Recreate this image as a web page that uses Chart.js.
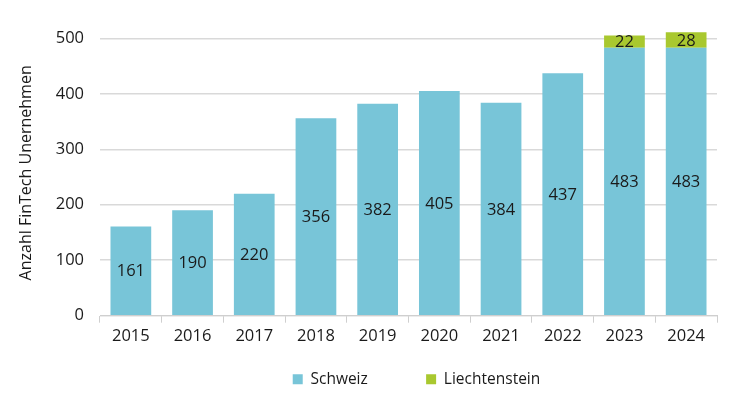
<!DOCTYPE html>
<html>
<head>
<meta charset="utf-8">
<script src="https://cdn.jsdelivr.net/npm/chart.js@4.4.0/dist/chart.umd.min.js"></script>
<style>
  html, body { margin: 0; padding: 0; background: #fff; }
  #wrap { width: 750px; height: 405px; }
</style>
</head>
<body>
<div id="wrap"><canvas id="myChart" width="750" height="405"></canvas></div>
<script>
var years = ['2015','2016','2017','2018','2019','2020','2021','2022','2023','2024'];
var schweiz = [161, 190, 220, 356, 382, 405, 384, 437, 483, 483];
var liechtenstein = [null, null, null, null, null, null, null, null, 22, 28];
var yTicks = [0, 100, 200, 300, 400, 500];

// draw values in the middle of each segment
var barLabels = {
    id: 'barLabels',
    afterDatasetsDraw: function(chart){
        var ctx = chart.ctx;
        ctx.save();
        ctx.font = '16.5px "Open Sans"';
        ctx.fillStyle = '#1a1a1a';
        ctx.textAlign = 'center';
        ctx.textBaseline = 'middle';
        chart.data.datasets.forEach(function(ds, i){
            var meta = chart.getDatasetMeta(i);
            meta.data.forEach(function(bar, j){
                var v = ds.data[j];
                if (v == null) return;
                var mid = (bar.y + bar.base) / 2;
                ctx.fillText(v, bar.x, mid + 1);
            });
        });
        ctx.restore();
    }
};

// nudge the legend a little to the right
var legendShift = {
    id: 'legendShift',
    afterLayout: function(chart){
        chart.legend.left += 8;
        chart.legend.right += 8;
    }
};

var ctx = document.getElementById('myChart').getContext('2d');
var chart = new Chart(ctx, {
    type: 'bar',
    data: {
        labels: years,
        datasets: [{
            label: 'Schweiz            ',
            data: schweiz,
            backgroundColor: '#78c5d8',
            categoryPercentage: 1,
            barPercentage: 0.66
        }, {
            label: 'Liechtenstein',
            data: liechtenstein,
            backgroundColor: '#a9c82f',
            categoryPercentage: 1,
            barPercentage: 0.66
        }]
    },
    options: {
        responsive: false,
        animation: false,
        layout: { padding: { left: 17, right: 33, top: 30, bottom: 8 } },
        plugins: {
            legend: {
                position: 'bottom',
                fullSize: false,
                labels: {
                    boxWidth: 10,
                    boxHeight: 10,
                    padding: 10,
                    color: '#1a1a1a',
                    font: { family: 'Open Sans', size: 15.5 }
                }
            },
            tooltip: { enabled: false }
        },
        scales: {
            x: {
                stacked: true,
                afterFit: function(axis){ axis.height += 11; },
                grid: {
                    display: true,
                    drawOnChartArea: false,
                    drawTicks: true,
                    tickLength: 7,
                    color: '#cfcfcf'
                },
                border: { display: true, color: '#cfcfcf' },
                ticks: {
                    color: '#1a1a1a',
                    padding: 4,
                    font: { family: 'Open Sans', size: 16.5 }
                }
            },
            y: {
                stacked: true,
                min: 0,
                max: 515,
                afterBuildTicks: function(axis){
                    axis.ticks = yTicks.map(function(v){ return { value: v }; });
                },
                afterFit: function(axis){ axis.width = 83; },
                grid: {
                    color: '#d9d9d9',
                    lineWidth: 1.5,
                    drawTicks: false
                },
                border: { display: false },
                ticks: {
                    color: '#1a1a1a',
                    padding: 16,
                    font: { family: 'Open Sans', size: 16.5 }
                },
                title: {
                    display: true,
                    text: 'Anzahl FinTech Unernehmen',
                    color: '#1a1a1a',
                    padding: { top: 0, bottom: 0 },
                    font: { family: 'Open Sans', size: 16 }
                }
            }
        }
    },
    plugins: [barLabels, legendShift]
});
</script>
</body>
</html>
